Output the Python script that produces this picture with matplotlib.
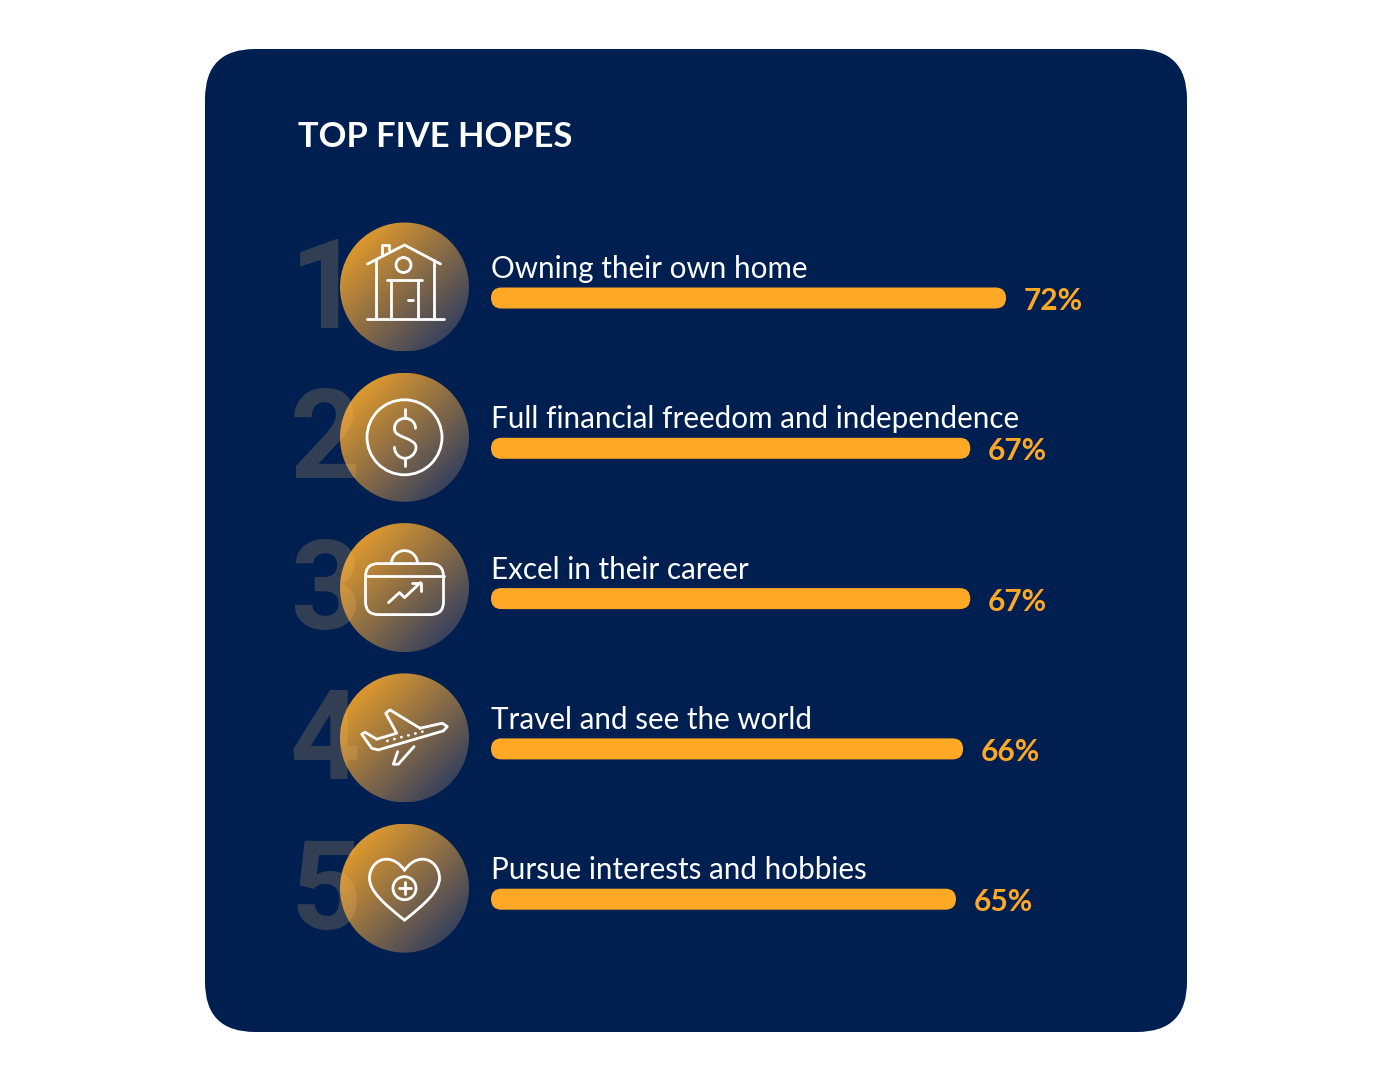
import matplotlib
matplotlib.use("Agg")
import matplotlib.pyplot as plt
import numpy as np
from matplotlib.patches import Circle, FancyBboxPatch, PathPatch
from matplotlib.path import Path

W, H = 1379, 1081

title = "TOP FIVE HOPES"
categories = [
    "Owning their own home",
    "Full financial freedom and independence",
    "Excel in their career",
    "Travel and see the world",
    "Pursue interests and hobbies",
]
values = [72, 67, 67, 66, 65]
ranks = ["1", "2", "3", "4", "5"]

NAVY = "#001F51"
ORANGE = "#FFA825"
PX_PER_PCT = 7.153
ROW_STEP = 150.3
CIRCLE_X = 404.5
CIRCLE_R = 64.5
LW = 2.0

plt.rcParams["font.family"] = ["Lato", "DejaVu Sans"]

fig = plt.figure(figsize=(W / 100, H / 100), dpi=100, facecolor="white")
ax = fig.add_axes([0, 0, 1, 1])
ax.set_xlim(0, W)
ax.set_ylim(H, 0)
ax.axis("off")

# bars live in their own axes: x is percent, y stays in pixels
bar_ax = fig.add_axes([491 / W, 0, 100 * PX_PER_PCT / W, 1])
bar_ax.set_xlim(0, 100)
bar_ax.set_ylim(H, 0)
bar_ax.axis("off")
bar_ax.patch.set_alpha(0)

panel = FancyBboxPatch(
    (205, 49), 982, 983, boxstyle="round,pad=0,rounding_size=50",
    facecolor=NAVY, edgecolor="none", zorder=1,
)
ax.add_patch(panel)
ax.text(298, 147, title, color="white", fontsize=24.8, fontweight="bold",
        va="baseline", ha="left", zorder=5)

# orange to slate, top left to bottom right, stretched to the circle's edge
grid_x, grid_y = np.meshgrid(np.linspace(0, 1, 200), np.linspace(0, 1, 200))
blend = np.clip(((grid_x + grid_y) / 2 - 0.1) / 0.8, 0, 1)[..., None]
grad_start = np.array([232, 158, 42]) / 255
grad_end = np.array([46, 60, 96]) / 255
gradient = grad_start * (1 - blend) + grad_end * blend


def stroke(pts, cx, cy, closed=False):
    xs = [p[0] + cx for p in pts]
    ys = [p[1] + cy for p in pts]
    if closed:
        xs.append(xs[0])
        ys.append(ys[0])
    ax.plot(xs, ys, color="white", lw=LW, zorder=6, solid_joinstyle="round",
            solid_capstyle="round")


def ring(cx, cy, r):
    ax.add_patch(Circle((cx, cy), r, fill=False, edgecolor="white", lw=LW, zorder=6))


def curve(start, segments, cx, cy):
    verts = [start]
    codes = [Path.MOVETO]
    for seg in segments:
        verts.extend(seg)
        codes.extend([Path.CURVE4] * 3)
    verts = [(x + cx, y + cy) for x, y in verts]
    ax.add_patch(PathPatch(Path(verts, codes), fill=False, edgecolor="white",
                           lw=LW, zorder=6, capstyle="round"))


def draw_house(cx, cy):
    stroke([(-37, -23), (0, -42), (36, -23)], cx, cy)
    stroke([(-23, -32), (-23, -42), (-16, -42), (-16, -37)], cx, cy)
    stroke([(-29, -27), (-29, 32)], cx, cy)
    stroke([(29, -27), (29, 32)], cx, cy)
    stroke([(-38, 32), (39, 32)], cx, cy)
    ring(cx - 1, cy - 22, 7.5)
    stroke([(-18, -7), (17, -7)], cx, cy)
    stroke([(-14, -7), (-14, 32)], cx, cy)
    stroke([(13, -7), (13, 32)], cx, cy)
    stroke([(3.5, 13), (8, 13)], cx, cy)


def draw_dollar(cx, cy):
    ring(cx, cy, 37.5)
    stroke([(0.5, -28), (0.5, -19)], cx, cy)
    stroke([(0.5, 21), (0.5, 29)], cx, cy)
    curve((11, -9), [
        [(11, -15), (6, -19), (0.5, -19)],
        [(-5, -19), (-10, -15), (-10, -9)],
        [(-10, -3), (-5, -2), (0.5, 0.5)],
        [(6, 3), (11.5, 5), (11.5, 10)],
        [(11.5, 16), (6, 21), (0.5, 21)],
        [(-5, 21), (-10, 16), (-10, 10)],
    ], cx, cy)


def draw_case(cx, cy):
    ax.add_patch(FancyBboxPatch((cx - 39, cy - 24), 78, 51,
                                boxstyle="round,pad=0,rounding_size=13",
                                fill=False, edgecolor="white", lw=LW, zorder=6))
    stroke([(-39, -12), (39, -12)], cx, cy)
    angles = np.linspace(np.pi, 2 * np.pi, 30)
    stroke(list(zip(13 * np.cos(angles), -24 + 13 * np.sin(angles))), cx, cy)
    stroke([(-16, 15), (-5, 5), (0, 10), (16, -5)], cx, cy)
    stroke([(7, -5), (16, -5), (16, 3)], cx, cy)


def draw_plane(cx, cy):
    stroke([(15.5, -9.7), (37.8, -14.7), (42.8, -11.3), (38.8, -7), (-26.2, 12),
            (-32.8, 10.3), (-42.8, -3.7), (-39.5, -5.7), (-27.8, 1.3), (-7.8, -4.7),
            (-18.8, -24.7), (-14.5, -28)], cx, cy, closed=True)
    stroke([(9.5, 8.7), (-6.2, 26.3), (-11.2, 26.3), (-6.8, 13.7)], cx, cy)
    ax.plot([cx - 17.2, cx + 24.5], [cy + 3, cy - 8], color="white", lw=LW,
            linestyle=(0, (0.1, 2.5)), dash_capstyle="round", zorder=6)


def draw_heart(cx, cy):
    curve((0, -18), [
        [(-5, -25), (-11, -29), (-18, -29)],
        [(-28, -29), (-35, -20), (-35, -10)],
        [(-35, 3), (-20, 16), (0, 32)],
        [(20, 16), (35, 3), (35, -10)],
        [(35, -20), (28, -29), (18, -29)],
        [(11, -29), (5, -25), (0, -18)],
    ], cx, cy)
    ring(cx, cy, 11.5)
    stroke([(-6, 0), (6, 0)], cx, cy)
    stroke([(0, -6), (0, 6)], cx, cy)


icons = [draw_house, draw_dollar, draw_case, draw_plane, draw_heart]

for i, (cat, val, rank) in enumerate(zip(categories, values, ranks)):
    bar_y = 298 + i * ROW_STEP
    cy = bar_y - 11
    disc = ax.imshow(gradient, extent=(CIRCLE_X - CIRCLE_R, CIRCLE_X + CIRCLE_R,
                                       cy + CIRCLE_R, cy - CIRCLE_R),
                     zorder=3, aspect="auto", interpolation="bilinear")
    disc.set_clip_path(Circle((CIRCLE_X, cy), CIRCLE_R, transform=ax.transData))
    ax.text(361, cy + 41, rank, color="#FFBE64", alpha=0.2, fontsize=89, fontweight="bold",
            family=["Roboto", "DejaVu Sans"], ha="right", va="baseline", zorder=4)
    icons[i](CIRCLE_X, cy)

    # rounded bar, mutation_aspect keeps the ends circular in percent/pixel space
    bar_ax.add_patch(FancyBboxPatch(
        (0, bar_y - 10.5), val, 21,
        boxstyle=f"round,pad=0,rounding_size={10.5 / PX_PER_PCT}",
        mutation_aspect=PX_PER_PCT, facecolor=ORANGE, edgecolor="none", zorder=5,
    ))
    bar_ax.annotate(cat, (0, bar_y - 20), color="white", fontsize=21.3,
                    va="baseline", ha="left", annotation_clip=False, zorder=5)
    bar_ax.annotate(f"{val}%", (val, bar_y + 12), xytext=(12.5, 0),
                    textcoords="offset points", color=ORANGE, fontsize=21.5,
                    fontweight="bold", va="baseline", ha="left",
                    annotation_clip=False, zorder=5)

ax.set_xlim(0, W)
ax.set_ylim(H, 0)
fig.savefig("out.png", dpi=100, facecolor="white")
